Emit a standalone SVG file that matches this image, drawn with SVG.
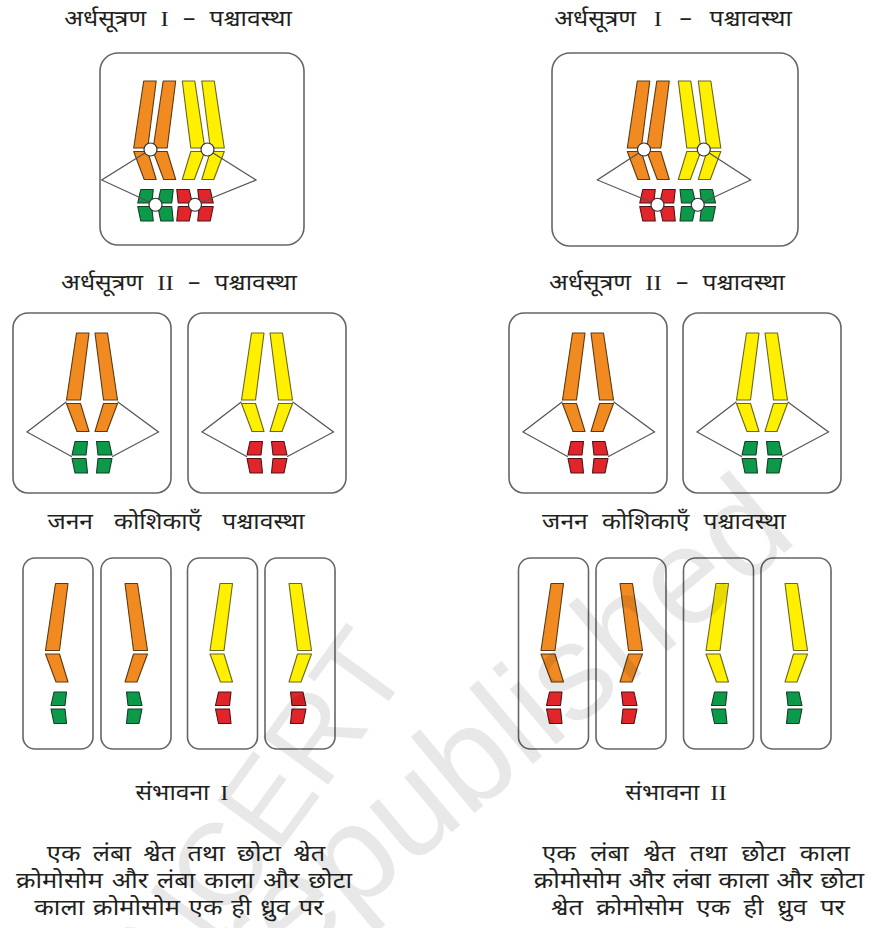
<svg xmlns="http://www.w3.org/2000/svg" xmlns:xlink="http://www.w3.org/1999/xlink" width="870" height="928" viewBox="0 0 870 928">
<style>
.box{fill:none;stroke:#666;stroke-width:1.6}
.or{fill:#F28A22;stroke:#5a3a12;stroke-width:1.1;stroke-linejoin:round}
.ye{fill:#FFF000;stroke:#6a661c;stroke-width:1.1;stroke-linejoin:round}
.gr{fill:#0C9A4A;stroke:#163c22;stroke-width:1.1;stroke-linejoin:round}
.rd{fill:#E2252A;stroke:#4e1414;stroke-width:1.1;stroke-linejoin:round}
.sp{stroke:#555;stroke-width:1.2;fill:none}
.cen{fill:#fff;stroke:#333;stroke-width:1.2}
.t{font-family:"Noto Sans Devanagari","Noto Serif Devanagari","Lohit Devanagari","Noto Sans",sans-serif;fill:#231f20;text-anchor:middle}
.h{font-size:22px}
.d{font-size:22.5px}
.r{font-family:"Liberation Serif",serif}
.wm{font-family:"Liberation Sans",Arial,sans-serif;fill:#000;fill-opacity:0.09}
</style>
<defs>
<g id="bigL"><polygon points="-15.5,0 -3,0 -11.5,67 -25.5,67"/><polygon points="-25.5,70.5 -11.5,70.5 -3,98.5 -15,98.5"/></g>
<g id="smL"><polygon points="-17,108.5 -4.5,108.5 -6,122 -20,122"/><polygon points="-20,125.5 -6,125.5 -4.5,140 -17,140"/></g>
</defs>
<rect width="870" height="928" fill="#fff"/>

<g id="labels">
<text class="t h" transform="translate(178,26) scale(1.12,1)" word-spacing="7">अर्धसूत्रण <tspan class="r">I</tspan> – पश्चावस्था</text>
<text class="t h" transform="translate(673,26) scale(1.12,1)" word-spacing="10">अर्धसूत्रण <tspan class="r">I</tspan> – पश्चावस्था</text>
<text class="t h" transform="translate(179,290) scale(1.12,1)" word-spacing="7">अर्धसूत्रण <tspan class="r">II</tspan> – पश्चावस्था</text>
<text class="t h" transform="translate(667,290) scale(1.12,1)" word-spacing="7">अर्धसूत्रण <tspan class="r">II</tspan> – पश्चावस्था</text>
<text class="t h" transform="translate(176,529) scale(1.12,1)" word-spacing="13">जनन कोशिकाएँ पश्चावस्था</text>
<text class="t h" transform="translate(664,529) scale(1.12,1)" word-spacing="7">जनन कोशिकाएँ पश्चावस्था</text>
<text class="t h" transform="translate(182,800) scale(1.12,1)" word-spacing="4">संभावना <tspan class="r">I</tspan></text>
<text class="t h" transform="translate(676,800) scale(1.12,1)" word-spacing="4">संभावना <tspan class="r">II</tspan></text>
<text class="t d" transform="translate(186,861) scale(1.13,1)" word-spacing="5">एक लंबा श्वेत तथा छोटा श्वेत</text>
<text class="t d" transform="translate(184,888) scale(1.13,1)" word-spacing="2">क्रोमोसोम और लंबा काला और छोटा</text>
<text class="t d" transform="translate(179,915) scale(1.13,1)" word-spacing="2">काला क्रोमोसोम एक ही ध्रुव पर</text>
<text class="t d" transform="translate(696,861) scale(1.13,1)" word-spacing="7">एक लंबा श्वेत तथा छोटा काला</text>
<text class="t d" transform="translate(699,888) scale(1.13,1)" word-spacing="1">क्रोमोसोम और लंबा काला और छोटा</text>
<text class="t d" transform="translate(698,915) scale(1.13,1)" word-spacing="6">श्वेत क्रोमोसोम एक ही ध्रुव पर</text>
</g>

<!-- Meiosis I left -->
<g id="mI-left">
<rect class="box" x="100" y="53" width="204" height="192" rx="18"/>
<use href="#bigL" class="or" transform="translate(159.2,81)"/>
<use href="#bigL" class="or" transform="translate(178.7,81)"/>
<use href="#bigL" class="ye" transform="translate(179.3,81) scale(-1,1)"/>
<use href="#bigL" class="ye" transform="translate(198.8,81) scale(-1,1)"/>
<use href="#smL" class="gr" transform="translate(157.75,81)"/>
<use href="#smL" class="gr" transform="translate(177.75,81)"/>
<use href="#smL" class="rd" transform="translate(172.25,81) scale(-1,1)"/>
<use href="#smL" class="rd" transform="translate(193.25,81) scale(-1,1)"/>
</g>
<!-- Meiosis I right -->
<g id="mI-right">
<rect class="box" x="552" y="53" width="246" height="193" rx="18"/>
<use href="#bigL" class="or" transform="translate(652.8,81)"/>
<use href="#bigL" class="or" transform="translate(672.3,81)"/>
<use href="#bigL" class="ye" transform="translate(675.3,81) scale(-1,1)"/>
<use href="#bigL" class="ye" transform="translate(695.3,81) scale(-1,1)"/>
<use href="#smL" class="rd" transform="translate(659.75,81)"/>
<use href="#smL" class="rd" transform="translate(679.75,81)"/>
<use href="#smL" class="gr" transform="translate(675.5,81) scale(-1,1)"/>
<use href="#smL" class="gr" transform="translate(695.5,81) scale(-1,1)"/>
</g>

<!-- Meiosis II -->
<g id="mII-l1">
<rect class="box" x="13" y="313" width="158" height="180" rx="15"/>
<use href="#bigL" class="or" transform="translate(92,333)"/>
<use href="#bigL" class="or" transform="translate(92,333) scale(-1,1)"/>
<use href="#smL" class="gr" transform="translate(92,333)"/>
<use href="#smL" class="gr" transform="translate(92,333) scale(-1,1)"/>
</g>
<g id="mII-l2">
<rect class="box" x="188" y="313" width="158" height="180" rx="15"/>
<use href="#bigL" class="ye" transform="translate(267,333)"/>
<use href="#bigL" class="ye" transform="translate(267,333) scale(-1,1)"/>
<use href="#smL" class="rd" transform="translate(267,333)"/>
<use href="#smL" class="rd" transform="translate(267,333) scale(-1,1)"/>
</g>
<g id="mII-r1">
<rect class="box" x="509" y="313" width="158" height="180" rx="15"/>
<use href="#bigL" class="or" transform="translate(588,333)"/>
<use href="#bigL" class="or" transform="translate(588,333) scale(-1,1)"/>
<use href="#smL" class="rd" transform="translate(588,333)"/>
<use href="#smL" class="rd" transform="translate(588,333) scale(-1,1)"/>
</g>
<g id="mII-r2">
<rect class="box" x="683" y="313" width="158" height="180" rx="15"/>
<use href="#bigL" class="ye" transform="translate(762,333)"/>
<use href="#bigL" class="ye" transform="translate(762,333) scale(-1,1)"/>
<use href="#smL" class="gr" transform="translate(762,333)"/>
<use href="#smL" class="gr" transform="translate(762,333) scale(-1,1)"/>
</g>

<!-- Gametes -->
<g id="g1"><rect class="box" x="23" y="558" width="70" height="191" rx="12"/>
<use href="#bigL" class="or" transform="translate(71,583.5)"/><use href="#smL" class="gr" transform="translate(71,583.5)"/></g>
<g id="g2"><rect class="box" x="101" y="558" width="70" height="191" rx="12"/>
<use href="#bigL" class="or" transform="translate(122,583.5) scale(-1,1)"/><use href="#smL" class="gr" transform="translate(122,583.5) scale(-1,1)"/></g>
<g id="g3"><rect class="box" x="187.5" y="558" width="70" height="191" rx="12"/>
<use href="#bigL" class="ye" transform="translate(235.5,583.5)"/><use href="#smL" class="rd" transform="translate(235.5,583.5)"/></g>
<g id="g4"><rect class="box" x="265" y="558" width="70" height="191" rx="12"/>
<use href="#bigL" class="ye" transform="translate(286,583.5) scale(-1,1)"/><use href="#smL" class="rd" transform="translate(286,583.5) scale(-1,1)"/></g>
<g id="g5"><rect class="box" x="518.5" y="558" width="70" height="191" rx="12"/>
<use href="#bigL" class="or" transform="translate(566.5,583.5)"/><use href="#smL" class="rd" transform="translate(566.5,583.5)"/></g>
<g id="g6"><rect class="box" x="596" y="558" width="70" height="191" rx="12"/>
<use href="#bigL" class="or" transform="translate(617,583.5) scale(-1,1)"/><use href="#smL" class="rd" transform="translate(617,583.5) scale(-1,1)"/></g>
<g id="g7"><rect class="box" x="683.5" y="558" width="70" height="191" rx="12"/>
<use href="#bigL" class="ye" transform="translate(731.5,583.5)"/><use href="#smL" class="gr" transform="translate(731.5,583.5)"/></g>
<g id="g8"><rect class="box" x="761" y="558" width="70" height="191" rx="12"/>
<use href="#bigL" class="ye" transform="translate(782,583.5) scale(-1,1)"/><use href="#smL" class="gr" transform="translate(782,583.5) scale(-1,1)"/></g>

<!-- spindle connectors -->
<g id="connectors" class="sp">
<polyline points="150.5,149.5 101.7,180 155.5,204.75"/>
<polyline points="207.5,149.5 256,180 195,204.75"/>
<polyline points="644,149.5 597.3,180 657.5,204.75"/>
<polyline points="703.8,149.5 750.7,180 697.75,204.75"/>
<polyline points="66.5,401.75 27,432 72,456.75"/>
<polyline points="117.5,401.75 158.5,432 112,456.75"/>
<polyline points="241.5,401.75 202,432 247,456.75"/>
<polyline points="292.5,401.75 333.5,432 287,456.75"/>
<polyline points="562.5,401.75 523,432 568,456.75"/>
<polyline points="613.5,401.75 654.5,432 608,456.75"/>
<polyline points="736.5,401.75 697,432 742,456.75"/>
<polyline points="787.5,401.75 828.5,432 782,456.75"/>
</g>
<g id="centromeres">
<circle class="cen" cx="150.5" cy="149.5" r="6.5"/>
<circle class="cen" cx="207.5" cy="149.5" r="6.5"/>
<circle class="cen" cx="155.5" cy="204.75" r="6.5"/>
<circle class="cen" cx="195" cy="204.75" r="6.5"/>
<circle class="cen" cx="644" cy="149.5" r="6.5"/>
<circle class="cen" cx="703.8" cy="149.5" r="6.5"/>
<circle class="cen" cx="657.5" cy="204.75" r="6.5"/>
<circle class="cen" cx="697.75" cy="204.75" r="6.5"/>
</g>

<g id="watermark">
<text class="wm" font-size="117" text-anchor="end" transform="translate(413,668) rotate(-54)">© NCERT</text>
<text class="wm" font-size="137" text-anchor="end" transform="translate(800,540) rotate(-40)">not to be republished</text>
</g>
</svg>
